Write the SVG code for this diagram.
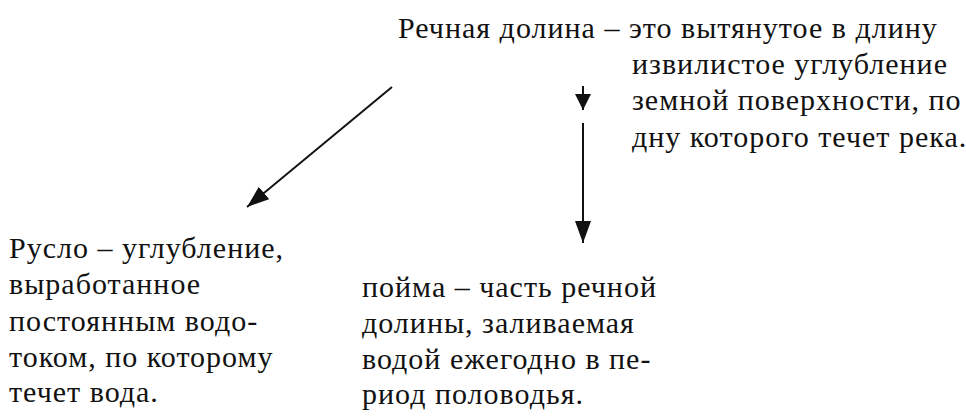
<svg xmlns="http://www.w3.org/2000/svg" width="966" height="418" viewBox="0 0 966 418">
<defs>
  <marker id="ah" markerUnits="userSpaceOnUse" markerWidth="22" markerHeight="16" refX="22" refY="8" orient="auto">
    <path d="M0,0 L22,8 L0,16 z" fill="#111"/>
  </marker>
  <marker id="ahs" markerUnits="userSpaceOnUse" markerWidth="16" markerHeight="16" refX="16" refY="8" orient="auto">
    <path d="M0,0 L16,8 L0,16 z" fill="#111"/>
  </marker>
</defs>
<rect width="966" height="418" fill="#fff"/>
<g id="root">
  <text font-family="Liberation Serif" font-size="30" fill="#111" letter-spacing="1" x="398" y="38">Речная долина – это вытянутое в длину</text>
  <text font-family="Liberation Serif" font-size="30" fill="#111" letter-spacing="1" x="632" y="74">извилистое углубление</text>
  <text font-family="Liberation Serif" font-size="30" fill="#111" letter-spacing="1" x="632" y="110">земной поверхности, по</text>
  <text font-family="Liberation Serif" font-size="30" fill="#111" letter-spacing="1" x="632" y="147">дну которого течет река.</text>
</g>
<g id="ruslo">
  <text font-family="Liberation Serif" font-size="30" fill="#111" letter-spacing="1" x="9" y="258">Русло – углубление,</text>
  <text font-family="Liberation Serif" font-size="30" fill="#111" letter-spacing="1" x="9" y="294">выработанное</text>
  <text font-family="Liberation Serif" font-size="30" fill="#111" letter-spacing="1" x="9" y="331">постоянным водо-</text>
  <text font-family="Liberation Serif" font-size="30" fill="#111" letter-spacing="1" x="9" y="367">током, по которому</text>
  <text font-family="Liberation Serif" font-size="30" fill="#111" letter-spacing="1" x="9" y="402">течет вода.</text>
</g>
<g id="poyma">
  <text font-family="Liberation Serif" font-size="30" fill="#111" letter-spacing="1" x="362" y="297">пойма – часть речной</text>
  <text font-family="Liberation Serif" font-size="30" fill="#111" letter-spacing="1" x="362" y="333">долины, заливаемая</text>
  <text font-family="Liberation Serif" font-size="30" fill="#111" letter-spacing="1" x="362" y="369">водой ежегодно в пе-</text>
  <text font-family="Liberation Serif" font-size="30" fill="#111" letter-spacing="1" x="362" y="404">риод половодья.</text>
</g>
<g id="connectors" stroke="#111" stroke-width="2" fill="none">
  <line x1="392" y1="87" x2="247" y2="207" marker-end="url(#ah)"/>
  <line x1="583" y1="86" x2="583" y2="110" marker-end="url(#ahs)"/>
  <line x1="583" y1="123" x2="583" y2="243" marker-end="url(#ah)"/>
</g>
</svg>
